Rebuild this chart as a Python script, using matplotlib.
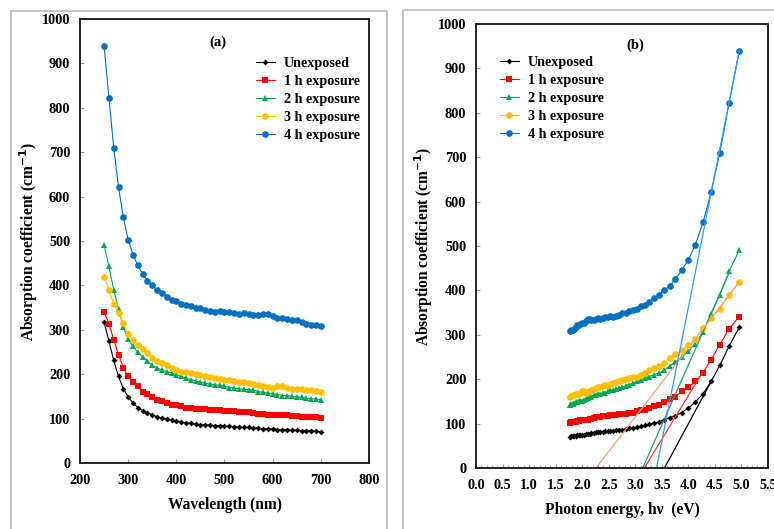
import numpy as np
import matplotlib
matplotlib.use("Agg")
import matplotlib.pyplot as plt
from matplotlib.patches import Rectangle
from matplotlib.ticker import MultipleLocator

plt.rcParams['font.family'] = ['Liberation Serif', 'DejaVu Serif']
plt.rcParams['font.weight'] = 'bold'

wavelength = list(range(250, 701, 10))

unexposed = [317, 275, 231, 195, 167, 149, 135, 125, 118, 113, 109, 104, 101, 99, 96, 94,
             92, 90, 89, 88, 86, 86, 85, 84, 84, 83, 83, 81, 81, 80, 80, 79, 79, 77, 77, 77,
             75, 75, 75, 74, 74, 73, 73, 73, 71, 70]
exp_1h = [341, 314, 278, 244, 215, 195, 182, 173, 161, 155, 148, 143, 139, 135, 131, 131,
          129, 125, 124, 122, 122, 122, 120, 120, 119, 118, 116, 116, 115, 114, 114, 113,
          111, 110, 109, 109, 107, 107, 107, 105, 105, 104, 104, 104, 103, 101]
exp_2h = [491, 443, 390, 347, 306, 280, 263, 249, 239, 230, 220, 214, 210, 206, 203, 199,
          195, 191, 188, 185, 182, 180, 178, 176, 175, 173, 170, 169, 167, 166, 165, 164,
          161, 159, 158, 156, 154, 152, 152, 150, 149, 148, 146, 145, 144, 143]
exp_3h = [420, 390, 359, 338, 315, 290, 276, 265, 257, 248, 236, 230, 225, 220, 215, 210,
          206, 204, 203, 200, 199, 197, 193, 191, 190, 188, 186, 184, 182, 182, 180, 178,
          175, 173, 171, 170, 174, 173, 169, 167, 167, 167, 165, 164, 163, 161]
exp_4h = [940, 823, 710, 621, 553, 503, 469, 445, 426, 410, 400, 390, 383, 375, 368, 364,
          359, 356, 353, 349, 349, 345, 343, 341, 343, 341, 339, 338, 335, 338, 335, 333,
          333, 335, 335, 330, 326, 326, 324, 323, 321, 318, 314, 311, 310, 308]

labels = ['Unexposed', '1 h exposure', '2 h exposure', '3 h exposure', '4 h exposure']
series = [unexposed, exp_1h, exp_2h, exp_3h, exp_4h]
colors = ['#000000', '#ff0000', '#00a84f', '#ffc000', '#0070c0']
markers = ['D', 's', '^', 'o', 'o']
msizes = [3.0, 4.8, 4.6, 4.8, 4.8]

# tangent lines (extrapolations to the energy axis) in panel (b)
tangent_x0 = [3.55, 3.17, 3.14, 2.26, 3.40]
tangent_x1 = [4.43, 4.28, 4.77, 4.96, 4.96]
tangent_y1 = [195, 218, 440, 419, 940]
tangent_colors = ['#000000', '#ff3030', '#2a9a7e', '#f7a07a', '#3399ff']

energy = [1240.0 / w for w in wavelength]

W, H = 774, 529
fig = plt.figure(figsize=(W / 100, H / 100), dpi=100)

# panel frames
fig.patches.append(Rectangle((11 / W, -0.05), 376 / W, 1.05 - 11 / H, transform=fig.transFigure,
                             fill=False, edgecolor='#c0c0c0', lw=1.3))
fig.patches.append(Rectangle((403 / W, -0.05), 400 / W, 1.05 - 10 / H, transform=fig.transFigure,
                             fill=False, edgecolor='#c0c0c0', lw=1.3))

axA = fig.add_axes([80 / W, (H - 463) / H, 289 / W, 444 / H])
axB = fig.add_axes([476 / W, (H - 468) / H, 292 / W, 444 / H])

TICK_FS = 10.3
LEG_FS = 10.2
LAB_FS = 11.2


def style(ax):
    for s in ax.spines.values():
        s.set_linewidth(1.4)
        s.set_color('#222222')
    ax.tick_params(direction='in', which='both', color='#999999', labelsize=TICK_FS)
    ax.tick_params(which='major', length=3)
    ax.tick_params(which='minor', length=2)
    ax.tick_params(axis='x', pad=8)
    ax.tick_params(axis='y', pad=7)
    for t in ax.get_xticklabels() + ax.get_yticklabels():
        t.set_fontweight('bold')


for y, lab, c, m, ms in zip(series, labels, colors, markers, msizes):
    axA.plot(wavelength, y, color=c, marker=m, markersize=ms, lw=0.8, label=lab,
             markeredgewidth=0)
axA.set_xlim(200, 800)
axA.set_ylim(0, 1000)
axA.xaxis.set_major_locator(MultipleLocator(100))
axA.yaxis.set_major_locator(MultipleLocator(100))
style(axA)
axA.set_xlabel('Wavelength (nm)', fontsize=LAB_FS, fontweight='bold', labelpad=7)
axA.set_ylabel('Absorption coefficient (cm$^{\\mathbf{-1}}$)', fontsize=LAB_FS,
               fontweight='bold', labelpad=1)
fig.text(218 / W, 1 - 42 / H, '(a)', fontsize=10.5, fontweight='bold', ha='center', va='center')
axA.legend(loc='upper left', bbox_to_anchor=((250 - 80) / 289, (463 - 51) / 444), frameon=False,
           prop={'weight': 'bold', 'size': LEG_FS}, handlelength=1.35, handletextpad=0.65,
           labelspacing=0.36, numpoints=1, borderaxespad=0)

for y, lab, c, m, ms in zip(series, labels, colors, markers, msizes):
    axB.plot(energy, y, color=c, marker=m, markersize=ms, lw=0.8, label=lab,
             markeredgewidth=0)
for x0, x1, y1, c in zip(tangent_x0, tangent_x1, tangent_y1, tangent_colors):
    axB.plot([x0, x1], [0, y1], color=c, lw=0.9)
axB.set_xlim(0, 5.5)
axB.set_ylim(0, 1000)
axB.xaxis.set_major_locator(MultipleLocator(0.5))
axB.xaxis.set_minor_locator(MultipleLocator(0.1))
axB.yaxis.set_major_locator(MultipleLocator(100))
axB.xaxis.set_major_formatter(matplotlib.ticker.FormatStrFormatter('%.1f'))
style(axB)
axB.set_xlabel('Photon energy, h\u03bd  (eV)', fontsize=LAB_FS, fontweight='bold', labelpad=7)
axB.set_ylabel('Absorption coefficient (cm$^{\\mathbf{-1}}$)', fontsize=LAB_FS,
               fontweight='bold', labelpad=2)
fig.text(635 / W, 1 - 45 / H, '(b)', fontsize=10.5, fontweight='bold', ha='center', va='center')
axB.legend(loc='upper left', bbox_to_anchor=((494 - 476) / 292, (468 - 50) / 444), frameon=False,
           prop={'weight': 'bold', 'size': LEG_FS}, handlelength=1.35, handletextpad=0.65,
           labelspacing=0.36, numpoints=1, borderaxespad=0)

fig.savefig('out.png', dpi=100)
